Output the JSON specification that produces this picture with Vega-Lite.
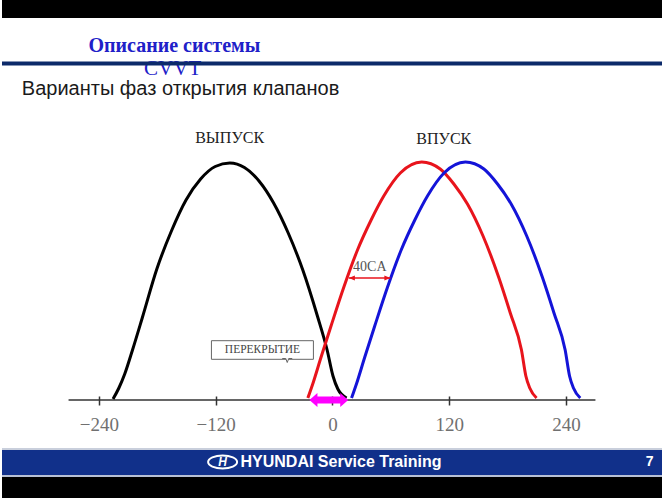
{
  "$schema": "https://vega.github.io/schema/vega-lite/v6.json",
  "width": 664,
  "height": 498,
  "autosize": {"type": "fit", "contains": "padding"},
  "padding": 0,
  "background": "white",
  "config": {"view": {"stroke": null}},
  "resolve": {"scale": {"color": "independent"}},
  "datasets": {
    "bars": [
      {"part": "headerbar", "v": -339.6, "v2": 338.6, "lift": 382, "lift2": 400},
      {"part": "footertop", "v": -339.6, "v2": 338.6, "lift": -50, "lift2": -48},
      {"part": "footer", "v": -339.6, "v2": 338.6, "lift": -75, "lift2": -50},
      {"part": "footerline", "v": -339.6, "v2": 338.6, "lift": -77, "lift2": -75},
      {"part": "bottombar", "v": -339.6, "v2": 338.6, "lift": -98, "lift2": -77}
    ],
    "curves": [
      {"series": "exhaust", "v": -225.5, "lift": 1},
      {"series": "exhaust", "v": -219.5, "lift": 12},
      {"series": "exhaust", "v": -213.5, "lift": 26},
      {"series": "exhaust", "v": -205.5, "lift": 50},
      {"series": "exhaust", "v": -195.5, "lift": 82},
      {"series": "exhaust", "v": -180.5, "lift": 131},
      {"series": "exhaust", "v": -165.5, "lift": 169},
      {"series": "exhaust", "v": -150.5, "lift": 200},
      {"series": "exhaust", "v": -135.5, "lift": 221},
      {"series": "exhaust", "v": -120.5, "lift": 233.5},
      {"series": "exhaust", "v": -105.5, "lift": 237},
      {"series": "exhaust", "v": -90.5, "lift": 232.5},
      {"series": "exhaust", "v": -75.5, "lift": 219},
      {"series": "exhaust", "v": -60.5, "lift": 197},
      {"series": "exhaust", "v": -45.5, "lift": 167},
      {"series": "exhaust", "v": -30.5, "lift": 130},
      {"series": "exhaust", "v": -15.5, "lift": 84},
      {"series": "exhaust", "v": -5.5, "lift": 50},
      {"series": "exhaust", "v": 0.5, "lift": 24},
      {"series": "exhaust", "v": 5.5, "lift": 11},
      {"series": "exhaust", "v": 14.5, "lift": 2},
      {"series": "intake_adv", "v": -25.3, "lift": 2},
      {"series": "intake_adv", "v": -20.3, "lift": 16},
      {"series": "intake_adv", "v": -11.7, "lift": 43},
      {"series": "intake_adv", "v": -1.5, "lift": 74},
      {"series": "intake_adv", "v": 11.7, "lift": 113},
      {"series": "intake_adv", "v": 25.7, "lift": 150},
      {"series": "intake_adv", "v": 39.7, "lift": 180},
      {"series": "intake_adv", "v": 52.7, "lift": 204},
      {"series": "intake_adv", "v": 69.7, "lift": 227},
      {"series": "intake_adv", "v": 91.7, "lift": 238},
      {"series": "intake_adv", "v": 110.7, "lift": 231},
      {"series": "intake_adv", "v": 124.7, "lift": 216},
      {"series": "intake_adv", "v": 138.7, "lift": 196},
      {"series": "intake_adv", "v": 154.7, "lift": 164},
      {"series": "intake_adv", "v": 170.7, "lift": 123},
      {"series": "intake_adv", "v": 182.7, "lift": 87},
      {"series": "intake_adv", "v": 194.2, "lift": 50},
      {"series": "intake_adv", "v": 198.7, "lift": 24},
      {"series": "intake_adv", "v": 202.7, "lift": 12},
      {"series": "intake_adv", "v": 209.7, "lift": 2},
      {"series": "intake_ret", "v": 19.6, "lift": 2},
      {"series": "intake_ret", "v": 24.6, "lift": 16},
      {"series": "intake_ret", "v": 33.2, "lift": 43},
      {"series": "intake_ret", "v": 43.4, "lift": 74},
      {"series": "intake_ret", "v": 56.6, "lift": 113},
      {"series": "intake_ret", "v": 70.6, "lift": 150},
      {"series": "intake_ret", "v": 84.6, "lift": 180},
      {"series": "intake_ret", "v": 97.6, "lift": 204},
      {"series": "intake_ret", "v": 114.6, "lift": 227},
      {"series": "intake_ret", "v": 136.6, "lift": 238},
      {"series": "intake_ret", "v": 155.6, "lift": 231},
      {"series": "intake_ret", "v": 169.6, "lift": 216},
      {"series": "intake_ret", "v": 183.6, "lift": 196},
      {"series": "intake_ret", "v": 199.6, "lift": 164},
      {"series": "intake_ret", "v": 215.6, "lift": 123},
      {"series": "intake_ret", "v": 227.6, "lift": 87},
      {"series": "intake_ret", "v": 239.1, "lift": 50},
      {"series": "intake_ret", "v": 243.6, "lift": 24},
      {"series": "intake_ret", "v": 247.6, "lift": 12},
      {"series": "intake_ret", "v": 254.6, "lift": 2}
    ]
  },
  "encoding": {
    "x": {
      "field": "v",
      "type": "quantitative",
      "scale": {"domain": [-339.6, 338.6], "nice": false, "zero": false},
      "axis": {
        "values": [-240, -120, 0, 120, 240],
        "domain": false,
        "grid": false,
        "ticks": true,
        "tickSize": 9,
        "tickColor": "#333333",
        "tickWidth": 1.5,
        "labelFont": "Liberation Serif",
        "labelFontSize": 19,
        "labelColor": "#707070",
        "labelPadding": 10,
        "labelFlush": false,
        "labelOverlap": false,
        "offset": -102,
        "title": null
      }
    },
    "y": {
      "field": "lift",
      "type": "quantitative",
      "scale": {"domain": [-98, 400], "nice": false, "zero": false},
      "axis": null
    }
  },
  "layer": [
    {
      "data": {"name": "bars"},
      "mark": {"type": "rect", "clip": true},
      "encoding": {
        "x2": {"field": "v2"},
        "y2": {"field": "lift2"},
        "fill": {
          "field": "part",
          "type": "nominal",
          "scale": {
            "domain": ["headerbar", "footertop", "footer", "footerline", "bottombar"],
            "range": ["#000000", "#c9cfdc", "#11308a", "#b8c0d4", "#000000"]
          },
          "legend": null
        }
      }
    },
    {
      "data": {"values": [{"label": "Описание системы", "v": -250.8, "lift": 348}]},
      "mark": {"type": "text", "align": "left", "baseline": "alphabetic", "font": "Liberation Serif", "fontWeight": "bold", "fontSize": 20, "color": "#2020c8"},
      "encoding": {"text": {"field": "label"}}
    },
    {
      "data": {"values": [{"label": "CVVT", "v": -193.6, "lift": 325}]},
      "mark": {"type": "text", "align": "left", "baseline": "alphabetic", "font": "Liberation Serif", "fontSize": 21, "color": "#2020c8"},
      "encoding": {"text": {"field": "label"}}
    },
    {
      "data": {"values": [{"v": -339.6, "v2": 338.6, "lift": 336.5}]},
      "mark": {"type": "rule", "color": "#0c2a6a", "strokeWidth": 4},
      "encoding": {"x2": {"field": "v2"}}
    },
    {
      "data": {"values": [{"label": "Варианты фаз открытия клапанов", "v": -319.2, "lift": 305}]},
      "mark": {"type": "text", "align": "left", "baseline": "alphabetic", "font": "Liberation Sans", "fontSize": 20, "color": "#1a1a1a"},
      "encoding": {"text": {"field": "label"}}
    },
    {
      "data": {"values": [{"v": -271.2, "v2": 270.2, "lift": 0}]},
      "mark": {"type": "rule", "color": "#333333", "strokeWidth": 1.5},
      "encoding": {"x2": {"field": "v2"}}
    },
    {
      "data": {"values": [{"v": -124.4, "v2": -19.6, "lift": 40.7, "lift2": 59.3}]},
      "mark": {"type": "rect", "fill": "white", "stroke": "#666666", "strokeWidth": 1},
      "encoding": {"x2": {"field": "v2"}, "y2": {"field": "lift2"}}
    },
    {
      "data": {"values": [{"v": -46.5, "lift": 39.5}]},
      "mark": {"type": "point", "shape": "M-1,-0.4L-0.3,-0.4L0,0.4L0.3,-0.4L1,-0.4", "size": 100, "filled": false, "stroke": "#666666", "strokeWidth": 1, "fill": "white", "opacity": 1}
    },
    {
      "data": {"values": [{"label": "ПЕРЕКРЫТИЕ", "v": -72, "lift": 50}]},
      "mark": {"type": "text", "align": "center", "baseline": "middle", "font": "Liberation Serif", "fontSize": 11.5, "color": "#444444"},
      "encoding": {"text": {"field": "label"}}
    },
    {
      "data": {"name": "curves"},
      "mark": {"type": "line", "strokeWidth": 3, "interpolate": "monotone"},
      "encoding": {
        "stroke": {
          "field": "series",
          "type": "nominal",
          "scale": {"domain": ["exhaust", "intake_adv", "intake_ret"], "range": ["#000000", "#e8141c", "#1414d8"]},
          "legend": null
        }
      }
    },
    {
      "data": {"values": [{"v": -16.5, "v2": 9.0, "lift": 0}]},
      "mark": {"type": "rule", "color": "#ff00ff", "strokeWidth": 7},
      "encoding": {"x2": {"field": "v2"}}
    },
    {
      "data": {"values": [{"v": -16.5, "lift": 0}]},
      "mark": {"type": "point", "shape": "M-1,0L0.14,-1L0.14,1Z", "size": 196, "filled": true, "color": "#ff00ff", "opacity": 1}
    },
    {
      "data": {"values": [{"v": 9.0, "lift": 0}]},
      "mark": {"type": "point", "shape": "M1,0L-0.14,-1L-0.14,1Z", "size": 196, "filled": true, "color": "#ff00ff", "opacity": 1}
    },
    {
      "data": {"values": [{"v": 16.8, "v2": 59.4, "lift": 122}]},
      "mark": {"type": "rule", "color": "#e8141c", "strokeWidth": 1.5},
      "encoding": {"x2": {"field": "v2"}}
    },
    {
      "data": {"values": [{"v": 19.9, "lift": 122}]},
      "mark": {"type": "point", "shape": "M-1,0L1,-0.8L1,0.8Z", "size": 36, "filled": true, "color": "#e8141c", "opacity": 1}
    },
    {
      "data": {"values": [{"v": 56.4, "lift": 122}]},
      "mark": {"type": "point", "shape": "M1,0L-1,-0.8L-1,0.8Z", "size": 36, "filled": true, "color": "#e8141c", "opacity": 1}
    },
    {
      "data": {"values": [{"label": "40CA", "v": 38.3, "lift": 133}]},
      "mark": {"type": "text", "align": "center", "baseline": "middle", "font": "Liberation Serif", "fontSize": 14, "color": "#555555"},
      "encoding": {"text": {"field": "label"}}
    },
    {
      "data": {"values": [{"label": "ВЫПУСК", "v": -105.7, "lift": 262}, {"label": "ВПУСК", "v": 114.4, "lift": 261}]},
      "mark": {"type": "text", "align": "center", "baseline": "middle", "font": "Liberation Serif", "fontSize": 16, "color": "#222222"},
      "encoding": {"text": {"field": "label"}}
    },
    {
      "data": {"values": [{"v": -112.9, "lift": -62}]},
      "mark": {"type": "point", "shape": "M-1,0A1,0.45 0 1,0 1,0A1,0.45 0 1,0 -1,0Z", "size": 841, "filled": false, "stroke": "white", "strokeWidth": 2, "opacity": 1}
    },
    {
      "data": {"values": [{"label": "H", "v": -112.9, "lift": -62}]},
      "mark": {"type": "text", "align": "center", "baseline": "middle", "font": "Liberation Sans", "fontWeight": "bold", "fontStyle": "italic", "fontSize": 12, "color": "white"},
      "encoding": {"text": {"field": "label"}}
    },
    {
      "data": {"values": [{"label": "HYUNDAI Service Training", "v": -94.5, "lift": -62}]},
      "mark": {"type": "text", "align": "left", "baseline": "middle", "font": "Liberation Sans", "fontWeight": "bold", "fontSize": 16, "color": "white"},
      "encoding": {"text": {"field": "label"}}
    },
    {
      "data": {"values": [{"label": "7", "v": 325.9, "lift": -62}]},
      "mark": {"type": "text", "align": "center", "baseline": "middle", "font": "Liberation Sans", "fontWeight": "bold", "fontSize": 14, "color": "white"},
      "encoding": {"text": {"field": "label"}}
    }
  ]
}
